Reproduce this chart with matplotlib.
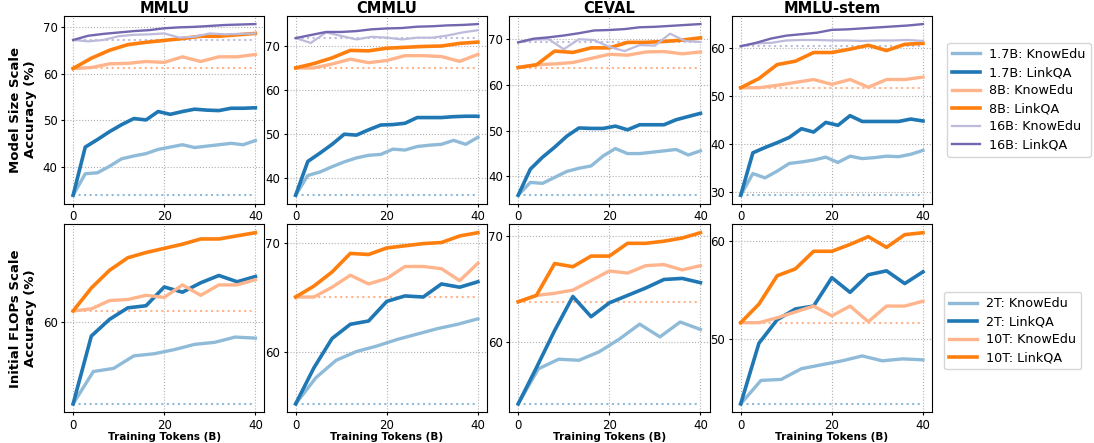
import numpy as np
import matplotlib
matplotlib.use("Agg")
import matplotlib.pyplot as plt

# training tokens (B) at each checkpoint, per run
x_17b = np.linspace(0, 40, 16)
x_8b = np.arange(0, 41, 4)
x_16b = np.linspace(0, 40, 13)
x_2t_know = np.linspace(0, 40, 10)
x_2t_link = np.arange(0, 41, 4)

benchmarks = ["MMLU", "CMMLU", "CEVAL", "MMLU-stem"]

# ---- model size scale (top row) ----
mmlu_17b_know = [34.0, 38.6, 38.8, 40.2, 41.8, 42.4, 42.9, 43.8, 44.3, 44.8, 44.2, 44.5, 44.8, 45.1, 44.8, 45.7]
mmlu_17b_link = [34.0, 44.3, 45.9, 47.6, 49.1, 50.4, 50.1, 51.9, 51.3, 51.9, 52.4, 52.2, 52.1, 52.6, 52.6, 52.7]
mmlu_8b_know = [61.1, 61.3, 62.1, 62.2, 62.6, 62.4, 63.6, 62.6, 63.6, 63.6, 64.1]
mmlu_8b_link = [61.1, 63.3, 65.0, 66.2, 66.7, 67.1, 67.5, 68.0, 68.0, 68.3, 68.6]
mmlu_16b_know = [67.2, 66.9, 67.2, 68.0, 68.3, 68.4, 68.6, 67.7, 67.9, 68.6, 68.4, 68.5, 68.6]
mmlu_16b_link = [67.2, 68.1, 68.5, 68.8, 69.1, 69.3, 69.7, 69.9, 70.0, 70.2, 70.4, 70.5, 70.6]

cmmlu_17b_know = [36.0, 40.5, 41.3, 42.5, 43.6, 44.5, 45.1, 45.3, 46.5, 46.3, 47.1, 47.4, 47.6, 48.5, 47.6, 49.2]
cmmlu_17b_link = [36.0, 43.7, 45.6, 47.6, 49.9, 49.7, 50.9, 52.0, 52.1, 52.4, 53.7, 53.7, 53.7, 53.9, 54.0, 54.0]
cmmlu_8b_know = [65.0, 65.0, 65.9, 67.0, 66.2, 66.7, 67.8, 67.8, 67.6, 66.5, 68.1]
cmmlu_8b_link = [65.0, 66.0, 67.3, 69.0, 68.9, 69.5, 69.7, 69.9, 70.0, 70.6, 70.9]
cmmlu_16b_know = [71.8, 70.7, 73.1, 72.3, 71.5, 72.1, 71.9, 71.5, 71.9, 71.9, 72.4, 73.1, 73.6]
cmmlu_16b_link = [71.8, 72.5, 73.2, 73.2, 73.4, 73.8, 74.0, 74.1, 74.4, 74.5, 74.7, 74.8, 75.0]

ceval_17b_know = [35.9, 38.7, 38.5, 39.8, 41.1, 41.8, 42.3, 44.5, 46.1, 45.0, 45.0, 45.3, 45.6, 45.9, 44.7, 45.6]
ceval_17b_link = [35.9, 41.6, 44.2, 46.4, 48.8, 50.6, 50.5, 50.5, 51.0, 50.2, 51.3, 51.3, 51.3, 52.4, 53.1, 53.8]
ceval_8b_know = [63.8, 64.4, 64.6, 64.9, 65.8, 66.7, 66.5, 67.2, 67.3, 66.8, 67.2]
ceval_8b_link = [63.8, 64.4, 67.4, 67.1, 68.1, 68.1, 69.3, 69.3, 69.5, 69.8, 70.3]
ceval_16b_know = [69.3, 69.9, 70.0, 67.8, 70.0, 69.8, 68.3, 67.4, 68.7, 68.6, 71.2, 69.6, 69.4]
ceval_16b_link = [69.3, 70.1, 70.4, 70.8, 71.3, 71.9, 72.0, 72.2, 72.6, 72.7, 72.9, 73.1, 73.3]

stem_17b_know = [29.4, 33.9, 33.0, 34.4, 36.0, 36.3, 36.7, 37.3, 36.2, 37.5, 37.0, 37.2, 37.5, 37.4, 37.9, 38.7]
stem_17b_link = [29.4, 38.2, 39.3, 40.3, 41.4, 43.2, 42.5, 44.5, 43.9, 45.9, 44.7, 44.7, 44.7, 44.7, 45.2, 44.8]
stem_8b_know = [51.7, 51.7, 52.2, 52.8, 53.4, 52.4, 53.4, 51.8, 53.4, 53.4, 53.9]
stem_8b_link = [51.7, 53.6, 56.5, 57.2, 59.0, 59.0, 59.7, 60.5, 59.4, 60.7, 60.9]
stem_16b_know = [60.3, 60.9, 61.0, 61.5, 61.6, 61.6, 61.5, 61.5, 61.4, 61.5, 61.5, 61.6, 61.4]
stem_16b_link = [60.3, 61.0, 61.9, 62.5, 62.8, 63.1, 63.7, 63.8, 64.0, 64.2, 64.4, 64.6, 64.9]

# ---- initial FLOPs scale (bottom row); 10T runs are the 8B runs above ----
mmlu_2t_know = [52.2, 55.3, 55.6, 56.8, 57.0, 57.4, 57.9, 58.1, 58.6, 58.5]
mmlu_2t_link = [52.2, 58.7, 60.3, 61.4, 61.6, 63.4, 62.9, 63.8, 64.5, 63.9, 64.4]
cmmlu_2t_know = [55.2, 57.6, 59.2, 60.0, 60.5, 61.1, 61.6, 62.1, 62.5, 63.0]
cmmlu_2t_link = [55.2, 58.5, 61.2, 62.5, 62.8, 64.6, 65.1, 65.0, 66.2, 65.9, 66.4]
ceval_2t_know = [54.2, 57.5, 58.4, 58.3, 59.1, 60.3, 61.7, 60.5, 61.9, 61.2]
ceval_2t_link = [54.2, 57.6, 61.1, 64.3, 62.4, 63.7, 64.4, 65.1, 65.9, 66.0, 65.6]
stem_2t_know = [43.4, 45.8, 45.9, 47.0, 47.4, 47.8, 48.3, 47.8, 48.0, 47.9]
stem_2t_link = [43.4, 49.6, 52.0, 53.1, 53.4, 56.3, 54.8, 56.6, 57.0, 55.7, 56.9]

light_blue, dark_blue = "#8fbbd9", "#1f77b4"
light_orange, dark_orange = "#ffb48c", "#ff7f0e"
light_purple, dark_purple = "#bdbbdc", "#7566b0"

size_runs = [
  [(x_17b, mmlu_17b_know), (x_17b, mmlu_17b_link), (x_8b, mmlu_8b_know),
   (x_8b, mmlu_8b_link), (x_16b, mmlu_16b_know), (x_16b, mmlu_16b_link)],
  [(x_17b, cmmlu_17b_know), (x_17b, cmmlu_17b_link), (x_8b, cmmlu_8b_know),
   (x_8b, cmmlu_8b_link), (x_16b, cmmlu_16b_know), (x_16b, cmmlu_16b_link)],
  [(x_17b, ceval_17b_know), (x_17b, ceval_17b_link), (x_8b, ceval_8b_know),
   (x_8b, ceval_8b_link), (x_16b, ceval_16b_know), (x_16b, ceval_16b_link)],
  [(x_17b, stem_17b_know), (x_17b, stem_17b_link), (x_8b, stem_8b_know),
   (x_8b, stem_8b_link), (x_16b, stem_16b_know), (x_16b, stem_16b_link)],
]
size_labels = ["1.7B: KnowEdu", "1.7B: LinkQA", "8B: KnowEdu", "8B: LinkQA",
               "16B: KnowEdu", "16B: LinkQA"]
size_colors = [light_blue, dark_blue, light_orange, dark_orange, light_purple, dark_purple]
size_widths = [2.4, 2.6, 2.4, 2.6, 1.6, 1.7]

flops_runs = [
  [(x_2t_know, mmlu_2t_know), (x_2t_link, mmlu_2t_link), (x_8b, mmlu_8b_know), (x_8b, mmlu_8b_link)],
  [(x_2t_know, cmmlu_2t_know), (x_2t_link, cmmlu_2t_link), (x_8b, cmmlu_8b_know), (x_8b, cmmlu_8b_link)],
  [(x_2t_know, ceval_2t_know), (x_2t_link, ceval_2t_link), (x_8b, ceval_8b_know), (x_8b, ceval_8b_link)],
  [(x_2t_know, stem_2t_know), (x_2t_link, stem_2t_link), (x_8b, stem_8b_know), (x_8b, stem_8b_link)],
]
flops_labels = ["2T: KnowEdu", "2T: LinkQA", "10T: KnowEdu", "10T: LinkQA"]
flops_colors = [light_blue, dark_blue, light_orange, dark_orange]
flops_widths = [2.4, 2.6, 2.4, 2.6]


def draw_panel(ax, runs, labels, colors, widths):
  # dotted baseline at each model's starting score
  for i in range(0, len(runs), 2):
    xs, ys = runs[i]
    ax.plot([xs[0], xs[-1]], [ys[0], ys[0]], linestyle=':', color=colors[i], linewidth=1.5)
  for (xs, ys), lab, col, lw in zip(runs, labels, colors, widths):
    ax.plot(xs, ys, color=col, linewidth=lw, label=lab)
  ax.grid(True, linestyle=':', color='#b0b0b0', linewidth=0.8)
  ax.set_xticks([0, 20, 40])
  ax.yaxis.set_major_locator(matplotlib.ticker.MultipleLocator(10))
  ax.tick_params(labelsize=8.5, length=2.5, pad=2)


fig, axes = plt.subplots(2, 4, figsize=(10.94, 4.43), dpi=100)
fig.subplots_adjust(left=0.0585, right=0.852, top=0.965, bottom=0.069, wspace=0.11, hspace=0.108)

for j, name in enumerate(benchmarks):
  draw_panel(axes[0, j], size_runs[j], size_labels, size_colors, size_widths)
  draw_panel(axes[1, j], flops_runs[j], flops_labels, flops_colors, flops_widths)
  axes[0, j].set_title(name, fontsize=10.5, fontweight='bold', pad=1)
  axes[1, j].set_xlabel("Training Tokens (B)", fontsize=7.5, fontweight='bold', labelpad=0)

axes[0, 0].set_ylabel("Model Size Scale\nAccuracy (%)", fontsize=9.5, fontweight='bold')
axes[1, 0].set_ylabel("Initial FLOPs Scale\nAccuracy (%)", fontsize=9.5, fontweight='bold')

axes[0, 3].legend(loc='upper left', bbox_to_anchor=(1.075, 0.855), borderaxespad=0,
                  fontsize=9.2, handlelength=2.2, handletextpad=0.7, labelspacing=0.4)
axes[1, 3].legend(loc='upper left', bbox_to_anchor=(1.06, 0.64), borderaxespad=0,
                  fontsize=9.2, handlelength=2.2, handletextpad=0.7, labelspacing=0.4)

plt.savefig("out.png", dpi=100)
